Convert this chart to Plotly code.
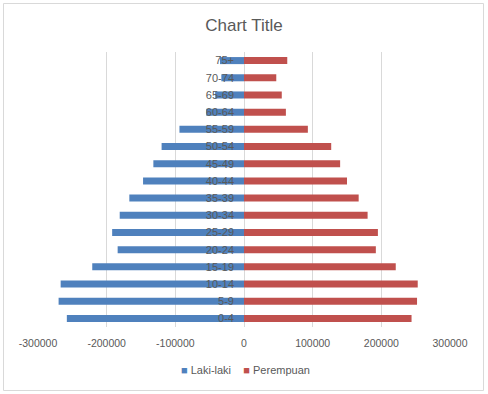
import plotly.graph_objects as go

age_groups = ["0-4", "5-9", "10-14", "15-19", "20-24", "25-29", "30-34", "35-39",
              "40-44", "45-49", "50-54", "55-59", "60-64", "65-69", "70-74", "75+"]
laki_laki = [-258000, -270000, -267000, -221000, -184000, -192000, -181000, -167000,
             -147000, -132000, -120000, -94000, -55000, -42000, -33000, -35000]
perempuan = [244000, 252000, 253000, 221000, 192000, 195000, 180000, 167000,
             150000, 140000, 127000, 93000, 61000, 55000, 47000, 63000]
x_tick_values = [-300000, -200000, -100000, 0, 100000, 200000, 300000]
x_tick_labels = ["-300000", "-200000", "-100000", "0", "100000", "200000", "300000"]
series_names = ["Laki-laki", "Perempuan"]
series_colors = ["#4f81bd", "#c0504d"]

W, H = 488, 394
ml, mr, mt, mb = 38, 38, 52, 67
pw, ph = W - ml - mr, H - mt - mb

fig = go.Figure()
fig.add_trace(go.Bar(y=age_groups, x=laki_laki, orientation="h", name=series_names[0],
                     marker=dict(color=series_colors[0], line=dict(width=0))))
fig.add_trace(go.Bar(y=age_groups, x=perempuan, orientation="h", name=series_names[1],
                     marker=dict(color=series_colors[1], line=dict(width=0))))

def px_x(p):
    return (p - ml) / pw

def px_y(p):
    return (H - mb - p) / ph

legend_text = "&nbsp;&nbsp;&nbsp;&nbsp;".join(
    f"<span style='color:{c}'>■</span>&nbsp;{n}" for n, c in zip(series_names, series_colors))

fig.update_layout(
    width=W, height=H,
    margin=dict(l=ml, r=mr, t=mt, b=mb),
    barmode="relative",
    bargap=0.59,
    paper_bgcolor="white",
    plot_bgcolor="white",
    showlegend=False,
    font=dict(family="Liberation Sans, Arial, sans-serif", size=11, color="#595959"),
    title=dict(text="Chart Title", x=0.5, xanchor="center", y=1 - 25 / H, yanchor="middle",
               yref="container", font=dict(size=17, color="#595959")),
    xaxis=dict(range=[-300000, 300000], tickvals=x_tick_values, ticktext=x_tick_labels,
               showgrid=True, gridcolor="#d9d9d9", gridwidth=1,
               zeroline=True, zerolinecolor="#d9d9d9", zerolinewidth=1,
               showline=False, ticks="", ticklabelstandoff=8,
               tickfont=dict(size=10.5, color="#595959"), fixedrange=True),
    yaxis=dict(type="category", categoryorder="array", categoryarray=age_groups,
               anchor="free", position=0.5, showgrid=False, zeroline=False,
               showline=False, ticks="", ticklabelstandoff=10,
               tickfont=dict(size=11, color="#595959"),
               range=[-0.5, len(age_groups) - 0.5], fixedrange=True),
    annotations=[dict(text=legend_text, xref="paper", yref="paper",
                      x=px_x(245.5), y=px_y(370), xanchor="center", yanchor="middle",
                      showarrow=False, font=dict(size=11, color="#595959"))],
    shapes=[dict(type="rect", xref="paper", yref="paper",
                 x0=px_x(3.5), x1=px_x(483.5), y0=px_y(390.5), y1=px_y(3.5),
                 line=dict(color="#d9d9d9", width=1), fillcolor="rgba(0,0,0,0)", layer="below")],
)

fig.write_html("out.html", config={"displayModeBar": False},
               post_script="document.body.style.margin='0';")
